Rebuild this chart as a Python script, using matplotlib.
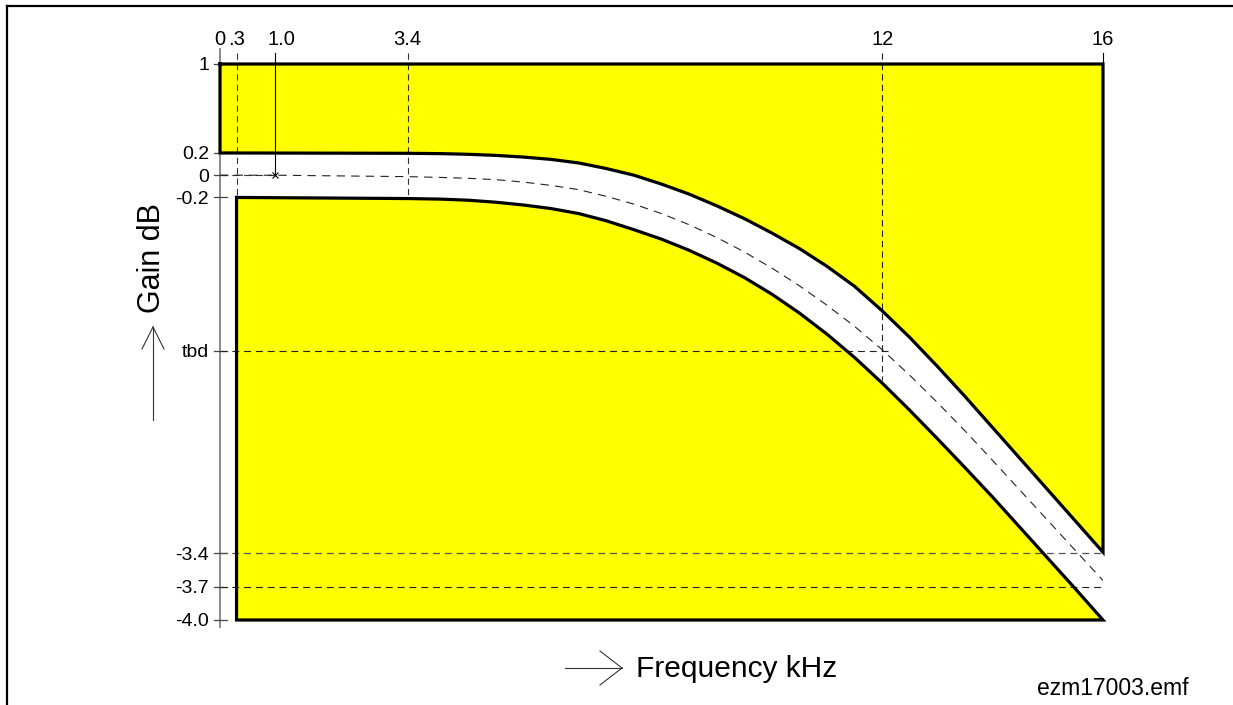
import matplotlib
matplotlib.use("Agg")
import matplotlib.pyplot as plt
from matplotlib.lines import Line2D

plt.rcParams['font.family'] = ['Liberation Sans', 'DejaVu Sans']
plt.rcParams['lines.scale_dashes'] = False

# ---- data (kHz, dB) ----
freq_ticks = [0, 0.3, 1.0, 3.4, 12, 16]
freq_labels = ['0', '.3', '1.0', '3.4', '12', '16']
gain_ticks = [1, 0.2, 0, -0.2, -1.58, -3.4, -3.7, -4.0]
gain_labels = ['1', '0.2', '0', '-0.2', 'tbd', '-3.4', '-3.7', '-4.0']

upper_f = [0, 3.4, 4.0, 4.5, 5.0, 5.5, 6.0, 6.5, 7.0, 7.5, 8.0, 8.5, 9.0, 9.5, 10.0,
           10.5, 11.0, 11.5, 12.0, 12.5, 13.0, 13.5, 14.0, 14.5, 15.0, 15.5, 16.0]
upper_g = [0.2, 0.197, 0.194, 0.188, 0.178, 0.163, 0.142, 0.11, 0.06, 0.0, -0.08, -0.17,
           -0.275, -0.39, -0.52, -0.66, -0.82, -1.0, -1.22, -1.46, -1.72, -1.99, -2.27,
           -2.55, -2.83, -3.11, -3.39]

lower_f = [0.3, 3.4, 4.0, 4.5, 5.0, 5.5, 6.0, 6.5, 7.0, 7.5, 8.0, 8.5, 9.0, 9.5, 10.0,
           10.5, 11.0, 11.5, 12.0, 12.5, 13.0, 13.5, 14.0, 14.5, 15.0, 15.5, 16.0]
lower_g = [-0.2, -0.21, -0.215, -0.225, -0.243, -0.268, -0.30, -0.345, -0.41, -0.49,
           -0.575, -0.675, -0.79, -0.92, -1.07, -1.24, -1.43, -1.64, -1.87, -2.115,
           -2.37, -2.63, -2.895, -3.17, -3.445, -3.72, -4.0]

middle_f = [0, 1.0, 3.4, 4.0, 4.5, 5.0, 5.5, 6.0, 6.5, 7.0, 7.5, 8.0, 8.5, 9.0, 9.5, 10.0,
            10.5, 11.0, 11.5, 12.0, 12.5, 13.0, 13.5, 14.0, 14.5, 15.0, 15.5, 16.0]
middle_g = [0, 0, -0.013, -0.02, -0.028, -0.04, -0.062, -0.092, -0.13, -0.19, -0.26,
            -0.345, -0.445, -0.56, -0.69, -0.835, -0.995, -1.17, -1.36, -1.57, -1.8,
            -2.045, -2.3, -2.565, -2.835, -3.105, -3.375, -3.645]

f_min, f_max = 0, 16
g_top, g_bot = 1, -4.0
tbd_level = -1.58
f_12 = 12

W, H = 1233, 705
fig = plt.figure(figsize=(W / 100, H / 100), dpi=100)
ax = fig.add_axes([220 / W, (H - 620) / H, 883 / W, 556 / H])
ax.set_xlim(f_min, f_max)
ax.set_ylim(g_bot, g_top)
ax.axis('off')

yellow = '#FFFF00'
lw_box = 2.3

# upper yellow region
up_x = [f_min, f_max, f_max] + upper_f[::-1]
up_y = [g_top, g_top, upper_g[-1]] + upper_g[::-1]
ax.fill(up_x, up_y, facecolor=yellow, edgecolor='none', zorder=1)
ax.plot(up_x + [up_x[0]], up_y + [up_y[0]], color='black', lw=lw_box,
        solid_joinstyle='miter', zorder=5, clip_on=False)

# lower yellow region
lo_x = lower_f + [f_max, lower_f[0]]
lo_y = lower_g + [g_bot, g_bot]
ax.fill(lo_x, lo_y, facecolor=yellow, edgecolor='none', zorder=1)
ax.plot(lo_x + [lo_x[0]], lo_y + [lo_y[0]], color='black', lw=lw_box,
        solid_joinstyle='miter', zorder=5, clip_on=False)

# gray gain axis at f=0
ax.plot([0, 0], [1.135, -4.065], color='#808080', lw=1.3, zorder=2, clip_on=False)

dash = (0, (5, 3.5))
# horizontal dashed reference lines
ax.plot([0, 1.0], [0, 0], color='#333333', lw=0.8, ls=dash, zorder=3)
ax.plot([0, f_12 + 0.1], [tbd_level, tbd_level], color='#222222', lw=0.8, ls=dash, zorder=3)
ax.plot([0, f_max], [-3.4, -3.4], color='#555555', lw=0.9, ls=dash, zorder=3)
ax.plot([0, f_max], [-3.7, -3.7], color='#222222', lw=0.8, ls=dash, zorder=3)

# vertical reference lines
ax.plot([0.3, 0.3], [1.1, -0.2], color='#333333', lw=0.8, ls=(0, (4.5, 3)), zorder=3, clip_on=False)
ax.plot([3.4, 3.4], [1.1, -0.2], color='#333333', lw=0.8, ls=(0, (4.5, 3)), zorder=3, clip_on=False)
ax.plot([f_12, f_12], [1.1, -1.84], color='#222222', lw=0.8, ls=(0, (4.5, 3)), zorder=3, clip_on=False)
ax.plot([1.0, 1.0], [1.1, 0], color='black', lw=0.8, zorder=3, clip_on=False)
ax.plot([1.0], [0], marker='x', ms=5, mew=0.8, color='black', zorder=4)
ax.plot([16, 16], [1.1, 1.0], color='black', lw=0.8, zorder=3, clip_on=False)

# nominal response (dashed)
ax.plot(middle_f, middle_g, color='#222222', lw=0.8, ls=(0, (6, 4.5)), zorder=3)

# gain ticks and labels
for g, lab in zip(gain_ticks, gain_labels):
    ax.plot([-0.1, 0.12], [g, g], color='#444444', lw=0.9, zorder=2, clip_on=False)
    ax.text(-0.2, g, lab, ha='right', va='center_baseline', fontsize=14,
            color='black', clip_on=False)

# frequency labels at top
lab_off = {'1.0': 0.12}
for f, lab in zip(freq_ticks, freq_labels):
    ax.text(f + lab_off.get(lab, 0), 1.171, lab, ha='center', va='baseline',
            fontsize=14.5, color='black', clip_on=False)


def px(x, y):
    return x / W, 1 - y / H


# figure border (top and left)
fig.add_artist(Line2D([px(7, 6)[0], 1.0], [px(7, 6)[1]] * 2, color='black', lw=1.6,
                      transform=fig.transFigure))
fig.add_artist(Line2D([px(7, 6)[0]] * 2, [px(7, 6)[1], 0.0], color='black', lw=1.6,
                      transform=fig.transFigure))

# Gain axis label + arrow
fig.text(*px(152, 258), 'Gain dB', rotation=90, ha='center', va='center', fontsize=22)
for seg in [((153, 420), (153, 327)), ((142, 349), (153, 327)), ((164, 349), (153, 327))]:
    (x0, y0), (x1, y1) = seg
    a, b = px(x0, y0), px(x1, y1)
    fig.add_artist(Line2D([a[0], b[0]], [a[1], b[1]], color='#333333', lw=0.8,
                          transform=fig.transFigure))

# Frequency axis label + arrow
fig.text(*px(636, 677), 'Frequency kHz', ha='left', va='baseline', fontsize=21.5)
for seg in [((565, 668), (622, 668)), ((600, 651), (622, 668)), ((600, 685), (622, 668))]:
    (x0, y0), (x1, y1) = seg
    a, b = px(x0, y0), px(x1, y1)
    fig.add_artist(Line2D([a[0], b[0]], [a[1], b[1]], color='#333333', lw=0.8,
                          transform=fig.transFigure))

fig.text(*px(1037, 695), 'ezm17003.emf', ha='left', va='baseline', fontsize=16.5)

fig.savefig('out.png', dpi=100)
